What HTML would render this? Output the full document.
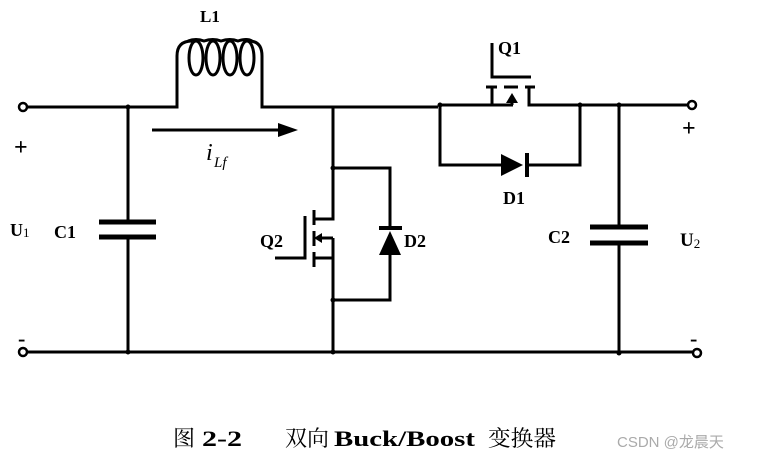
<!DOCTYPE html>
<html><head><meta charset="utf-8"><style>
html,body{margin:0;padding:0;background:#fff;}
svg{display:block}
text{font-family:"Liberation Serif","Noto Serif CJK SC",serif;fill:#000}
.l{font-weight:bold}
</style></head><body>
<svg width="769" height="464" viewBox="0 0 769 464" xmlns="http://www.w3.org/2000/svg">
<g stroke="#000" stroke-width="3" fill="none" stroke-linecap="butt">
<path d="M27,107 H177 V56 Q177,41 192,41 M249,41 Q262,41 262,56 V107 H438"/>
<path d="M188,41 Q196,38 204,41 Q213,38 221,41 Q230,38 238,41 Q247,38 252,41"/>
<ellipse cx="196" cy="58" rx="7" ry="17"/>
<ellipse cx="213" cy="58" rx="7" ry="17"/>
<ellipse cx="230" cy="58" rx="7" ry="17"/>
<ellipse cx="247" cy="58" rx="7" ry="17"/>
<path d="M438,105 H513"/>
<path d="M492,105 V88 M529,88 V105 H692"/>
<path d="M486,87 H497 M504,87 H518 M525,87 H535"/>
<path d="M512,105 V96"/>
<path d="M492,43 V77 H531"/>
<path d="M440,105 V165 H501 M527,165 H580 V105"/>
<path d="M527,153 V177" stroke-width="4"/>
<path d="M128,107 V222 M128,237 V352"/>
<path d="M99,222 H156 M99,237 H156" stroke-width="5"/>
<path d="M27,352 H693"/>
<path d="M333,107 V219 H315 M333,238 V350"/>
<path d="M333,258 H315"/>
<path d="M333,238 H322"/>
<path d="M314,210 V225 M314,231 V246 M314,252 V267"/>
<path d="M305,216 V258 H275"/>
<path d="M333,168 H390 V228 M390,255 V300 H333"/>
<path d="M379,228 H402" stroke-width="4"/>
<path d="M619,105 V227 M619,243 V353"/>
<path d="M590,227 H648 M590,243 H648" stroke-width="5"/>
<path d="M152,130 H280"/>
</g>
<g fill="#000" stroke="none">
<polygon points="278,123 298,130 278,137"/>
<polygon points="512,93 506,103 518,103"/>
<polygon points="322,233 322,243 314,238"/>
<polygon points="501,154 501,176 523,165"/>
<polygon points="379,255 401,255 390,231"/>
<circle cx="128" cy="107" r="2.5"/><circle cx="128" cy="352" r="2.5"/>
<circle cx="333" cy="168" r="2.5"/><circle cx="333" cy="352" r="2.5"/>
<circle cx="333" cy="300" r="2.5"/>
<circle cx="440" cy="105" r="2.5"/><circle cx="580" cy="105" r="2.5"/>
<circle cx="619" cy="105" r="2.5"/><circle cx="619" cy="353" r="2.5"/>
</g>
<g fill="#fff" stroke="#000" stroke-width="2.5">
<circle cx="23" cy="107" r="4"/><circle cx="23" cy="352" r="4"/>
<circle cx="692" cy="105" r="4"/><circle cx="697" cy="353" r="4"/>
</g>
<text class="l" x="200" y="22" font-size="17">L1</text>
<text x="206" y="160" font-size="24" font-style="italic">i</text>
<text x="214" y="167" font-size="15" font-style="italic">Lf</text>
<text x="14" y="155" font-size="24" font-family="Liberation Sans" font-weight="bold">+</text>
<text x="18" y="346" font-size="22" font-family="Liberation Sans" font-weight="bold">-</text>
<text class="l" x="10" y="236" font-size="18">U<tspan font-size="13" dy="1" font-weight="normal">1</tspan></text>
<text class="l" x="54" y="238" font-size="18">C1</text>
<text class="l" x="260" y="247" font-size="18">Q2</text>
<text class="l" x="404" y="247" font-size="18">D2</text>
<text class="l" x="498" y="54" font-size="18">Q1</text>
<text class="l" x="503" y="204" font-size="18">D1</text>
<text class="l" x="548" y="243" font-size="18">C2</text>
<text class="l" x="680" y="246" font-size="19">U<tspan font-size="13" dy="2" font-weight="normal">2</tspan></text>
<text x="682" y="136" font-size="24" font-family="Liberation Sans" font-weight="bold">+</text>
<text x="690" y="346" font-size="22" font-family="Liberation Sans" font-weight="bold">-</text>
<text x="173" y="446" font-size="22">图</text>
<text x="202" y="446" font-size="22" font-weight="bold" textLength="40" lengthAdjust="spacingAndGlyphs">2-2</text>
<text x="285" y="446" font-size="22" textLength="44" lengthAdjust="spacingAndGlyphs">双向</text>
<text x="334" y="446" font-size="22" font-weight="bold" textLength="141" lengthAdjust="spacingAndGlyphs">Buck/Boost</text>
<text x="488" y="446" font-size="22" textLength="68" lengthAdjust="spacingAndGlyphs">变换器</text>
<text x="617" y="447" font-size="15" style="fill:#aaa;font-family:'Liberation Sans','Noto Sans CJK SC',sans-serif">CSDN @龙晨天</text>
</svg>
</body></html>
